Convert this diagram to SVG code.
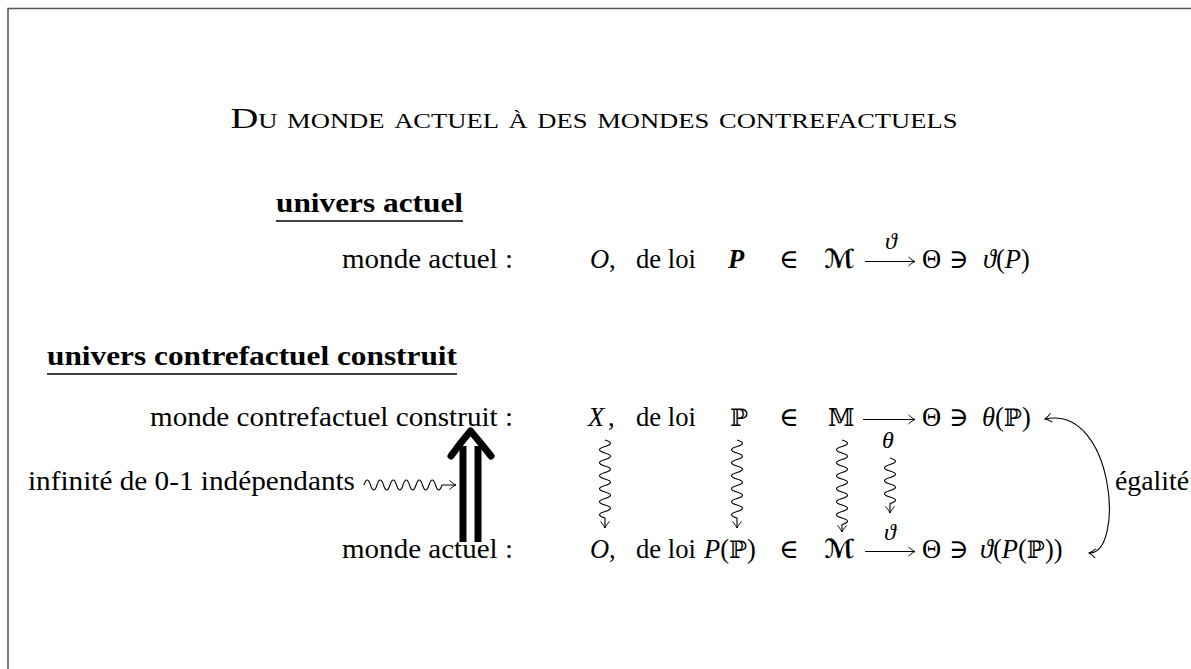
<svg xmlns="http://www.w3.org/2000/svg" width="1191" height="669" viewBox="0 0 1191 669">
<style>
text{font-family:"Liberation Serif","DejaVu Serif",serif;font-size:26.5px;fill:#000}
.b{font-weight:bold}
.it{font-style:italic}
.bb{font-family:"DejaVu Serif","DejaVu Sans",serif;font-size:24px}
.cal{font-family:"DejaVu Sans","DejaVu Serif",sans-serif;font-size:26px;font-weight:bold}
.sm{font-size:24px}
.ttl{font-size:29px;font-variant:small-caps}
.ln{stroke:#000;stroke-width:1.1;fill:none}
.sq{stroke:#000;stroke-width:1.1;fill:none}
</style>
<defs>
<marker id="ah" markerUnits="userSpaceOnUse" markerWidth="14" markerHeight="14" viewBox="-8 -7 10 14" refX="0" refY="0" orient="auto-start-reverse">
<path d="M-6.5,-4.5 C-3.5,-1.8 -1.2,-0.5 0,0 C-1.2,0.5 -3.5,1.8 -6.5,4.5" fill="none" stroke="#000" stroke-width="1"/>
</marker>
</defs>
<path d="M8,700 V8.5 H1200" fill="none" stroke="#555" stroke-width="1.5"/>
<g id="title"><text class="ttl" x="594" y="128" text-anchor="middle" textLength="727" lengthAdjust="spacingAndGlyphs">Du monde actuel à des mondes contrefactuels</text></g>

<g id="heading1"><text class="b" x="276" y="212" textLength="187" lengthAdjust="spacingAndGlyphs">univers actuel</text><line x1="276" y1="221" x2="463" y2="221" stroke="#000" stroke-width="1.5"/></g>
<g id="label1"><text x="513" y="268" text-anchor="end" textLength="171" lengthAdjust="spacingAndGlyphs">monde actuel :</text></g>
<g id="row1">
<text class="it" x="590" y="268">O</text><text x="609" y="268">,</text>
<text x="636" y="268" textLength="60" lengthAdjust="spacingAndGlyphs">de loi</text>
<text class="it b" x="728" y="268">P</text>
<text x="779" y="268">∈</text>
<text class="cal" x="824" y="268">ℳ</text>
<text class="sm it" x="891" y="249" text-anchor="middle">ϑ</text>
<text x="922" y="268">Θ</text>
<text x="949" y="268">∋</text>
<text x="983" y="268"><tspan class="it">ϑ</tspan>(<tspan class="it">P</tspan>)</text>
</g>

<g id="heading2"><text class="b" x="47" y="365" textLength="410" lengthAdjust="spacingAndGlyphs">univers contrefactuel construit</text><line x1="47" y1="374" x2="457" y2="374" stroke="#000" stroke-width="1.5"/></g>
<g id="label2"><text x="513" y="426" text-anchor="end" textLength="363" lengthAdjust="spacingAndGlyphs">monde contrefactuel construit :</text></g>
<g id="row2">
<text class="it" x="588" y="426">X</text><text x="608" y="426">,</text>
<text x="636" y="426" textLength="60" lengthAdjust="spacingAndGlyphs">de loi</text>
<text class="bb" x="730" y="426">ℙ</text>
<text x="779" y="426">∈</text>
<text class="bb" x="828" y="426">𝕄</text>
<text class="sm it" x="888" y="448" text-anchor="middle">θ</text>
<text x="922" y="426">Θ</text>
<text x="949" y="426">∋</text>
<text x="982" y="426"><tspan class="it">θ</tspan>(<tspan class="bb">ℙ</tspan>)</text>
</g>

<g id="label-infinite"><text x="28" y="490" textLength="327" lengthAdjust="spacingAndGlyphs">infinité de 0-1 indépendants</text></g>
<g id="label3"><text x="513" y="558" text-anchor="end" textLength="171" lengthAdjust="spacingAndGlyphs">monde actuel :</text></g>
<g id="row3">
<text class="it" x="590" y="558">O</text><text x="609" y="558">,</text>
<text x="636" y="558" textLength="60" lengthAdjust="spacingAndGlyphs">de loi</text>
<text x="704" y="558"><tspan class="it">P</tspan>(<tspan class="bb">ℙ</tspan>)</text>
<text x="779" y="558">∈</text>
<text class="cal" x="824" y="558">ℳ</text>
<text class="sm it" x="890" y="540" text-anchor="middle">ϑ</text>
<text x="922" y="558">Θ</text>
<text x="949" y="558">∋</text>
<text x="980" y="558"><tspan class="it">ϑ</tspan>(<tspan class="it">P</tspan>(<tspan class="bb">ℙ</tspan>))</text>
</g>
<g id="label-egalite"><text x="1115" y="490" textLength="74" lengthAdjust="spacingAndGlyphs">égalité</text></g>

<g id="connectors">
<line class="ln" x1="865" y1="261.5" x2="915" y2="261.5" marker-end="url(#ah)"/>
<line class="ln" x1="863" y1="419.5" x2="915" y2="419.5" marker-end="url(#ah)"/>
<line class="ln" x1="865" y1="551.5" x2="915" y2="551.5" marker-end="url(#ah)"/>
<path class="sq" d="M605,440 q11,3.25 0,6.5 t0,6.5 t0,6.5 t0,6.5 t0,6.5 t0,6.5 t0,6.5 t0,6.5 t0,6.5 t0,6.5 t0,6.5 t0,6.5 l0,10" marker-end="url(#ah)"/>
<path class="sq" d="M737,440 q11,3.25 0,6.5 t0,6.5 t0,6.5 t0,6.5 t0,6.5 t0,6.5 t0,6.5 t0,6.5 t0,6.5 t0,6.5 t0,6.5 t0,6.5 l0,10" marker-end="url(#ah)"/>
<path class="sq" d="M842,440 q11,3.25 0,6.5 t0,6.5 t0,6.5 t0,6.5 t0,6.5 t0,6.5 t0,6.5 t0,6.5 t0,6.5 t0,6.5 t0,6.5 t0,6.5 t0,6.5 l0,7.5" marker-end="url(#ah)"/>
<path class="sq" d="M890,458 q11,3.25 0,6.5 t0,6.5 t0,6.5 t0,6.5 t0,6.5 t0,6.5 t0,6.5 l0,9.5" marker-end="url(#ah)"/>
<path class="sq" d="M364,485 q3.25,-10 6.5,0 t6.5,0 t6.5,0 t6.5,0 t6.5,0 t6.5,0 t6.5,0 t6.5,0 t6.5,0 t6.5,0 t6.5,0 t6.5,0 l14,0" marker-end="url(#ah)"/>
<path class="ln" d="M1045,419 C1115,405 1125,555 1089,553" marker-start="url(#ah)" marker-end="url(#ah)"/>
<g id="big-arrow">
<line x1="463" y1="446" x2="463" y2="542" stroke="#000" stroke-width="7"/>
<line x1="478" y1="446" x2="478" y2="542" stroke="#000" stroke-width="7"/>
<path d="M451,456 Q461,442 470.5,431 Q480,442 491,456" fill="none" stroke="#000" stroke-width="7" stroke-linecap="round" stroke-linejoin="round"/>
</g>
</g>
</svg>
